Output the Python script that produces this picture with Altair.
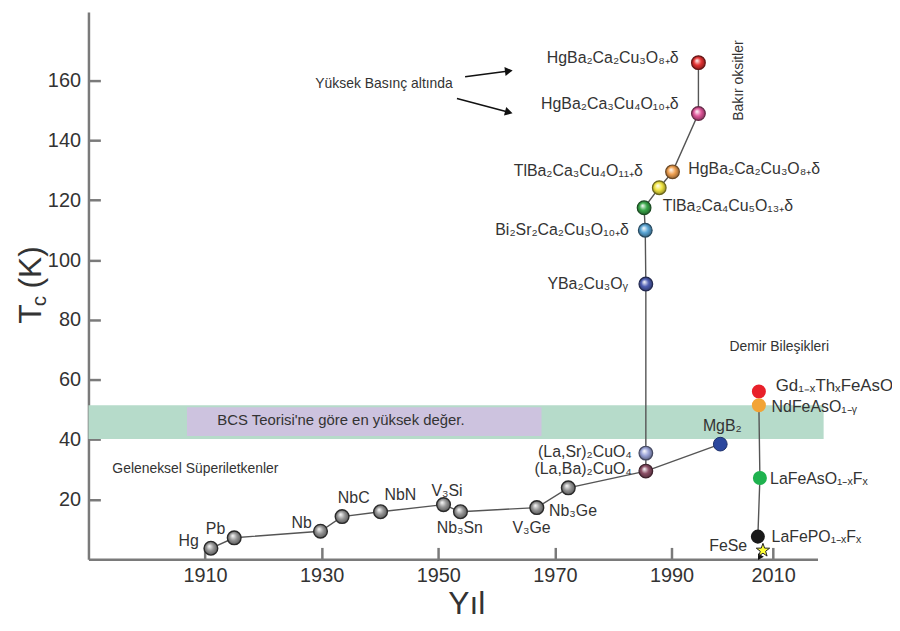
import altair as alt
import pandas as pd

FONT = "Liberation Sans"
TXT = "#333333"

# ---------------- data ----------------
# conventional superconductors (year, Tc)
conv_name = ["Hg", "Pb", "Nb", "NbC", "NbN", "V3Si", "Nb3Sn", "V3Ge", "Nb3Ge"]
conv_year = [1911.0, 1915.0, 1929.8, 1933.5, 1940.1, 1950.9, 1953.8, 1966.9, 1972.3]
conv_tc = [3.7, 7.2, 9.4, 14.3, 15.9, 18.3, 15.9, 17.3, 23.9]

# copper oxides
cup_name = ["(La,Ba)2CuO4", "(La,Sr)2CuO4", "YBa2Cu3Oy", "Bi2Sr2Ca2Cu3O10", "TlBa2Ca4Cu5O13",
            "TlBa2Ca3Cu4O11", "HgBa2Ca2Cu3O8", "HgBa2Ca3Cu4O10 P", "HgBa2Ca2Cu3O8 P"]
cup_year = [1985.6, 1985.6, 1985.6, 1985.5, 1985.3, 1987.9, 1990.2, 1995.3, 1995.3]
cup_tc = [29.5, 35.5, 92.0, 110.0, 117.5, 124.2, 129.5, 149.0, 166.0]

# MgB2
mgb2_year = [1999.6]
mgb2_tc = [38.5]

# iron compounds
iron_name = ["Gd1-xThxFeAsO", "NdFeAsO1-y", "LaFeAsO1-xFx", "LaFePO1-xFx"]
iron_year = [2007.2, 2007.2, 2007.4, 2007.0]
iron_tc = [56.1, 51.5, 27.2, 7.6]

fese_year = [2008.0]
fese_tc = [3.0]
marker_year = [2007.6]
marker_tc = [0.9]

# BCS limit band and its label box
band_x = [1890.0]
band_x2 = [2019.9]
band_y = [40.2]
band_y2 = [51.5]
box_x = [1906.9]
box_x2 = [1967.7]
box_y = [41.2]
box_y2 = [50.8]

# compound labels
lab_text = ["HgBa₂Ca₂Cu₃O₈₊δ", "HgBa₂Ca₃Cu₄O₁₀₊δ", "TlBa₂Ca₃Cu₄O₁₁₊δ", "HgBa₂Ca₂Cu₃O₈₊δ",
            "TlBa₂Ca₄Cu₅O₁₃₊δ", "Bi₂Sr₂Ca₂Cu₃O₁₀₊δ", "YBa₂Cu₃Oᵧ", "(La,Sr)₂CuO₄", "(La,Ba)₂CuO₄",
            "MgB₂", "Nb₃Ge", "V₃Ge", "Nb₃Sn", "V₃Si", "NbN", "NbC", "Nb", "Pb", "Hg", "FeSe",
            "LaFePO₁₋ₓFₓ", "LaFeAsO₁₋ₓFₓ", "NdFeAsO₁₋ᵧ"]
lab_year = [1991.4, 1991.4, 1985.1, 1993.3, 1988.5, 1982.7, 1982.5, 1983.2, 1983.2,
            2000.0, 1969.0, 1966.0, 1953.7, 1951.5, 1943.5, 1935.5, 1928.3, 1911.8, 1907.2, 2004.9,
            2009.7, 2009.4, 2009.7]
lab_tc = [167.6, 152.0, 129.8, 130.5, 118.2, 109.9, 92.0, 35.9, 30.2,
          44.5, 16.3, 10.3, 10.3, 22.9, 21.6, 20.6, 12.3, 10.0, 6.0, 4.3,
          7.6, 26.9, 50.8]
lab_align = ["right", "right", "right", "left", "left", "right", "right", "right", "right",
             "center", "left", "center", "center", "center", "center", "center", "right", "center",
             "center", "right", "left", "left", "left"]

# annotations
note_text = ["Geleneksel Süperiletkenler", "Yüksek Basınç altında", "Demir Bileşikleri"]
note_year = [1894.1, 1940.7, 2011.2]
note_tc = [30.2, 159.0, 71.0]
note_align = ["left", "center", "center"]

bcs_text = ["BCS Teorisi'ne göre en yüksek değer."]
bcs_year = [1933.3]
bcs_tc = [46.5]

copper_text = ["Bakır oksitler"]
copper_year = [2003.2]
copper_tc = [160.0]

gd_text = ["Gd₁₋ₓThₓFeAsO"]
gd_year = [2010.5]
gd_tc = [57.8]

# "under high pressure" arrows
arr_x = [1954.6, 1953.2]
arr_y = [161.3, 154.0]
arr_x2 = [1962.1, 1962.1]
arr_y2 = [163.2, 149.4]

x_ticks = [1910, 1930, 1950, 1970, 1990, 2010]
y_ticks = [20, 40, 60, 80, 100, 120, 140, 160]

# ---------------- styles ----------------
ball_color = {
    "conv": "#959595",
    "(La,Ba)2CuO4": "#8c4f66",
    "(La,Sr)2CuO4": "#9aa3d8",
    "YBa2Cu3Oy": "#4f5fb3",
    "Bi2Sr2Ca2Cu3O10": "#5aa6d6",
    "TlBa2Ca4Cu5O13": "#3aa84a",
    "TlBa2Ca3Cu4O11": "#f2e640",
    "HgBa2Ca2Cu3O8": "#f0a050",
    "HgBa2Ca3Cu4O10 P": "#e0559a",
    "HgBa2Ca2Cu3O8 P": "#e53232",
}
iron_color = ["#e8202a", "#f2a436", "#1fb24f", "#1a1a1a"]
STAR = ("M0,-1L0.235,-0.324L0.951,-0.309L0.380,0.124L0.588,0.809L0,0.4"
        "L-0.588,0.809L-0.380,0.124L-0.951,-0.309L-0.235,-0.324Z")


def darker(hexc, f=0.55):
    h = hexc.lstrip("#")
    r, g, b = (int(h[i:i + 2], 16) for i in (0, 2, 4))
    return "#%02x%02x%02x" % (int(r * f), int(g * f), int(b * f))


def ball_fill(c):
    return {
        "gradient": "radial",
        "x1": 0.38, "y1": 0.34, "r1": 0.0,
        "x2": 0.5, "y2": 0.5, "r2": 0.55,
        "stops": [
            {"offset": 0.0, "color": "#ffffff"},
            {"offset": 0.5, "color": c},
            {"offset": 1.0, "color": darker(c)},
        ],
    }


# ---------------- scales / axes ----------------
xscale = alt.Scale(domain=[1890, 1990, 2010, 2018.7], range=[0, 587, 689.3, 734], nice=False, zero=False)
yscale = alt.Scale(domain=[0, 182.9], nice=False, zero=False)

common_axis = dict(
    grid=False, title="", labelFont=FONT, labelFontSize=20, labelColor=TXT,
    domainColor="#7a7a7a", domainWidth=2.5, tickColor="#7a7a7a", tickWidth=2.5,
    tickSize={"expr": "-12"},
)
xaxis = alt.Axis(values=x_ticks, format="d", labelPadding=18, **common_axis)
yaxis = alt.Axis(values=y_ticks, labelPadding=20, **common_axis)

X = alt.X("year:Q", scale=xscale, axis=xaxis)
Y = alt.Y("tc:Q", scale=yscale, axis=yaxis)


def df(**cols):
    return pd.DataFrame(cols)


layers = []

# BCS band
layers.append(
    alt.Chart(df(year=band_x, year2=band_x2, tc=band_y, tc2=band_y2))
    .mark_rect(color="#b6dbca")
    .encode(x=X, x2="year2:Q", y=Y, y2="tc2:Q")
)
layers.append(
    alt.Chart(df(year=box_x, year2=box_x2, tc=box_y, tc2=box_y2))
    .mark_rect(color="#cdc3df")
    .encode(x=X, x2="year2:Q", y=Y, y2="tc2:Q")
)
layers.append(
    alt.Chart(df(year=bcs_year, tc=bcs_tc, t=bcs_text))
    .mark_text(font=FONT, fontSize=15, color=TXT, align="center", baseline="middle")
    .encode(x=X, y=Y, text="t:N")
)

# connecting lines
line_year = conv_year + [cup_year[0]] + mgb2_year + cup_year + [iron_year[1], iron_year[2], iron_year[3]]
line_tc = conv_tc + [cup_tc[0]] + mgb2_tc + cup_tc + [iron_tc[1], iron_tc[2], iron_tc[3]]
line_grp = (["conv"] * (len(conv_year) + 2)) + (["cup"] * len(cup_year)) + (["iron"] * 3)
line_ord = list(range(len(conv_year) + 2)) + list(range(len(cup_year))) + list(range(3))
layers.append(
    alt.Chart(df(year=line_year, tc=line_tc, g=line_grp, o=line_ord))
    .mark_line(color="#555555", strokeWidth=1.4)
    .encode(x=X, y=Y, detail="g:N", order="o:Q")
)

# arrows
layers.append(
    alt.Chart(df(year=arr_x, tc=arr_y, year2=arr_x2, tc2=arr_y2))
    .mark_rule(color="#111111", strokeWidth=1.5)
    .encode(x=X, y=Y, x2="year2:Q", y2="tc2:Q")
)
for i, ang in enumerate([353, 15]):
    layers.append(
        alt.Chart(df(year=[arr_x2[i]], tc=[arr_y2[i]]))
        .mark_point(shape="triangle-right", filled=True, size=80, color="#111111", opacity=1, angle=ang)
        .encode(x=X, y=Y)
    )

# conventional balls
for i in range(len(conv_year)):
    layers.append(
        alt.Chart(df(year=[conv_year[i]], tc=[conv_tc[i]]))
        .mark_point(shape="circle", filled=True, size=190, opacity=1,
                    fill=ball_fill(ball_color["conv"]), stroke="#2a2a2a", strokeWidth=1.4)
        .encode(x=X, y=Y)
    )
# cuprate balls
for i in range(len(cup_year)):
    c = ball_color[cup_name[i]]
    layers.append(
        alt.Chart(df(year=[cup_year[i]], tc=[cup_tc[i]]))
        .mark_point(shape="circle", filled=True, size=190, opacity=1,
                    fill=ball_fill(c), stroke=darker(c, 0.45), strokeWidth=1.2)
        .encode(x=X, y=Y)
    )
# MgB2
layers.append(
    alt.Chart(df(year=mgb2_year, tc=mgb2_tc))
    .mark_point(shape="circle", filled=True, size=190, opacity=1, fill="#2b479e",
                stroke="#1c2f6a", strokeWidth=1)
    .encode(x=X, y=Y)
)
# iron compounds
for i in range(len(iron_year)):
    layers.append(
        alt.Chart(df(year=[iron_year[i]], tc=[iron_tc[i]]))
        .mark_point(shape="circle", filled=True, size=200, opacity=1, fill=iron_color[i])
        .encode(x=X, y=Y)
    )
layers.append(
    alt.Chart(df(year=marker_year, tc=marker_tc))
    .mark_point(shape="triangle-right", filled=True, size=45, opacity=1, color="#111111")
    .encode(x=X, y=Y)
)
layers.append(
    alt.Chart(df(year=fese_year, tc=fese_tc))
    .mark_point(shape=STAR, filled=True, size=200, opacity=1, fill="#ffff33", stroke="#222222",
                strokeWidth=1)
    .encode(x=X, y=Y)
)

# compound labels
labels = df(year=lab_year, tc=lab_tc, t=lab_text, a=lab_align)
for a in ["left", "center", "right"]:
    layers.append(
        alt.Chart(labels)
        .transform_filter(alt.datum.a == a)
        .mark_text(font=FONT, fontSize=16, color=TXT, align=a, baseline="middle")
        .encode(x=X, y=Y, text="t:N")
    )

notes = df(year=note_year, tc=note_tc, t=note_text, a=note_align)
for a in ["left", "center"]:
    layers.append(
        alt.Chart(notes)
        .transform_filter(alt.datum.a == a)
        .mark_text(font=FONT, fontSize=14, color=TXT, align=a, baseline="middle")
        .encode(x=X, y=Y, text="t:N")
    )
layers.append(
    alt.Chart(df(year=copper_year, tc=copper_tc, t=copper_text))
    .mark_text(font=FONT, fontSize=14, color=TXT, align="center", baseline="middle", angle=270)
    .encode(x=X, y=Y, text="t:N")
)
layers.append(
    alt.Chart(df(year=gd_year, tc=gd_tc, t=gd_text))
    .mark_text(font=FONT, fontSize=17, color=TXT, align="left", baseline="middle")
    .encode(x=X, y=Y, text="t:N")
)

# axis titles
one = pd.DataFrame({"k": [0]})
layers.append(alt.Chart(one).mark_text(text="T", font=FONT, fontSize=32, color=TXT, angle=270,
                                       align="center", baseline="alphabetic")
              .encode(x=alt.value(-48), y=alt.value(304)))
layers.append(alt.Chart(one).mark_text(text="c", font=FONT, fontSize=21, color=TXT, angle=270,
                                       align="center", baseline="alphabetic")
              .encode(x=alt.value(-43), y=alt.value(291)))
layers.append(alt.Chart(one).mark_text(text="(K)", font=FONT, fontSize=32, color=TXT, angle=270,
                                       align="center", baseline="alphabetic")
              .encode(x=alt.value(-48), y=alt.value(257)))
layers.append(alt.Chart(one).mark_text(text="Yıl", font=FONT, fontSize=32, color=TXT,
                                       align="center", baseline="alphabetic")
              .encode(x=alt.value(381), y=alt.value(606)))

chart = (
    alt.layer(*layers)
    .properties(width=734, height=551,
                padding={"left": 81, "top": 2, "right": 75, "bottom": 62},
                autosize=alt.AutoSizeParams(type="none"))
    .configure_view(strokeWidth=0)
)

chart.save("out.html", embed_options={"renderer": "svg", "actions": False})
